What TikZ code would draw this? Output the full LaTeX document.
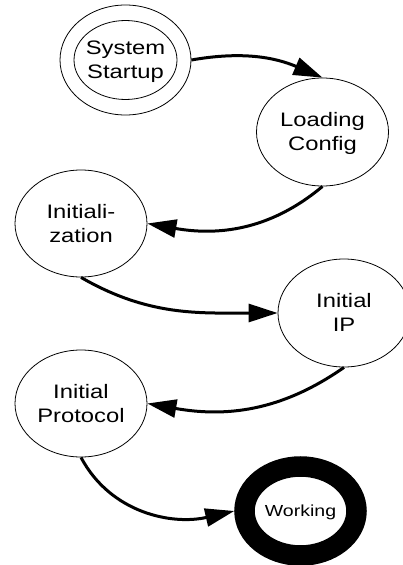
\documentclass[tikz,border=0pt]{standalone}
\usepackage{fontspec}
\setmainfont{Liberation Sans}
\usepackage{graphicx}
\usetikzlibrary{shapes.geometric, arrows.meta}

% labels are set horizontally widened, one or more centred lines;
% the trimmed depth lowers the text to the optical centre of the state
\newcommand{\widetext}[1]{\raisebox{0pt}[\height][\dimexpr\depth-4pt\relax]{%
  \scalebox{1.22}[1]{\begin{tabular}{@{}c@{}}#1\end{tabular}}}}

\tikzset{
  state/.style={ellipse, draw, line width=0.8pt, minimum width=132pt,
    minimum height=108pt, inner sep=0pt, font=\fontsize{19.5}{24}\selectfont},
  trans/.style={line width=3pt, -{Triangle[length=29pt,width=18pt]}},
}

\begin{document}
\begin{tikzpicture}[x=1pt,y=1pt]
\useasboundingbox (0,0) rectangle (403,-565);

% states
\node[state, minimum width=131pt, minimum height=110pt] (ss) at (125.5,-60)
  {\widetext{System\\Startup}};
\draw[line width=0.8pt] (ss.center) ellipse [x radius=51.5, y radius=39.5];

\node[state] (lc) at (322.5,-132) {\widetext{Loading\\Config}};
\node[state, minimum height=107pt] (init) at (81,-223.5) {\widetext{Initiali-\\zation}};
\node[state] (ip) at (344,-313) {\widetext{Initial\\IP}};
\node[state, minimum height=107pt] (ipr) at (81,-403.5) {\widetext{Initial\\Protocol}};
\node[state, line width=20.5pt, minimum width=112pt, minimum height=89pt,
  font=\fontsize{16}{19}\selectfont] (work) at (300.5,-511) {\widetext{Working}};

% transitions
\draw[trans] (ss.east) to[out=10,in=157] (lc.north);
\draw[trans] (lc.south) to[out=-140,in=-10] (init.east);
\draw[trans] (init.south) to[out=-30,in=180] (ip.west);
\draw[trans] (ip.south) to[out=-145,in=-10] (ipr.east);
\draw[trans] (ipr.south) to[out=-62,in=-167] (work.west);
\end{tikzpicture}
\end{document}
